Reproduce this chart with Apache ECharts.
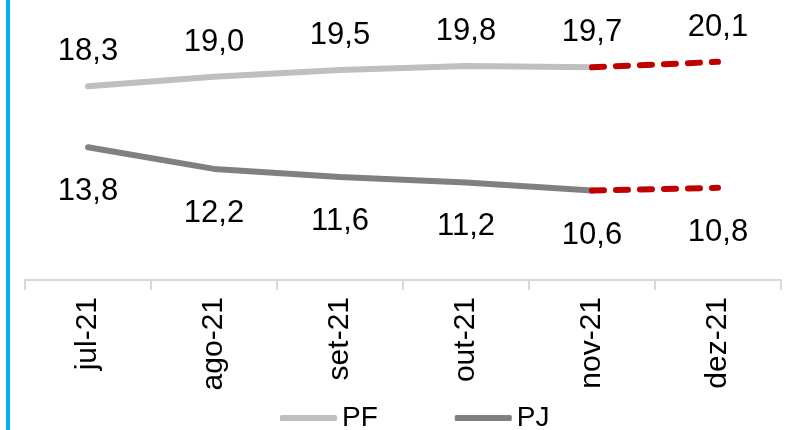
<!DOCTYPE html>
<html>
<head>
<meta charset="utf-8">
<style>
  html, body { margin: 0; padding: 0; background: #fff; }
  #wrap { position: relative; width: 791px; height: 430px; }
  #bar { position: absolute; left: 6px; top: 0; width: 4px; height: 430px; background: #00B0F0; }
  #chart { position: absolute; left: 0; top: 0; width: 791px; height: 430px; }
</style>
<script src="https://cdn.jsdelivr.net/npm/echarts@6/dist/echarts.min.js"></script>
</head>
<body>
<div id="wrap">
  <div id="bar"></div>
  <div id="chart"></div>
</div>
<script>
// Months shown on the category axis
const months = ['jul-21', 'ago-21', 'set-21', 'out-21', 'nov-21', 'dez-21'];
// Realised values (jul to nov)
const pfActual = [18.3, 19.0, 19.5, 19.8, 19.7, null];
const pjActual = [13.8, 12.2, 11.6, 11.2, 10.6, null];
// Projection segment (nov to dez)
const pfProjection = [null, null, null, null, 19.7, 20.1];
const pjProjection = [null, null, null, null, 10.6, 10.8];

const FONT = '"Liberation Sans", Arial, sans-serif';
const fmt = v => Number(v).toFixed(1).replace('.', ',');

function labelCfg(pos, offsetY, onlyIndex) {
  return {
    show: true,
    position: pos,
    distance: 0,
    offset: [0, offsetY],
    color: '#000',
    fontSize: 31,
    fontFamily: FONT,
    formatter: p => (onlyIndex === undefined || p.dataIndex === onlyIndex) ? fmt(p.value) : ''
  };
}

// tiny point markers, hidden under the line, that carry the value labels
function lineSeries(name, data, color, dashed, label) {
  return {
    name: name,
    type: 'line',
    data: data,
    symbol: 'circle',
    symbolSize: 2,
    showSymbol: true,
    color: color,
    itemStyle: { color: color },
    lineStyle: dashed
      ? { color: color, width: 6, type: [12, 12], cap: 'round' }
      : { color: color, width: 6, cap: 'round' },
    label: label,
    z: dashed ? 3 : 2
  };
}

const chart = echarts.init(document.getElementById('chart'), null, { renderer: 'canvas' });
chart.setOption({
  animation: false,
  grid: { left: 25, right: 10, top: 9, bottom: 150 },
  legend: {
    data: ['PF', 'PJ'],
    left: 275,
    top: 399,
    itemWidth: 57,
    itemHeight: 6,
    itemGap: 77,
    icon: 'roundRect',
    textStyle: { fontSize: 28, fontFamily: FONT, color: '#000' }
  },
  xAxis: {
    type: 'category',
    data: months,
    boundaryGap: true,
    axisLine: { lineStyle: { color: '#D9D9D9', width: 2 } },
    axisTick: { show: true, length: 10, lineStyle: { color: '#D9D9D9', width: 2 } },
    axisLabel: { rotate: 90, margin: 17, fontSize: 30, fontFamily: FONT, color: '#000' },
    splitLine: { show: false }
  },
  yAxis: {
    type: 'value',
    min: 4,
    max: 24,
    show: false
  },
  series: [
    lineSeries('PF', pfActual, '#BFBFBF', false, labelCfg('top', -18)),
    lineSeries('PJ', pjActual, '#808080', false, labelCfg('bottom', 28)),
    lineSeries('PF proj', pfProjection, '#C00000', true, labelCfg('top', -18, 5)),
    lineSeries('PJ proj', pjProjection, '#C00000', true, labelCfg('bottom', 28, 5))
  ]
});
</script>
</body>
</html>
